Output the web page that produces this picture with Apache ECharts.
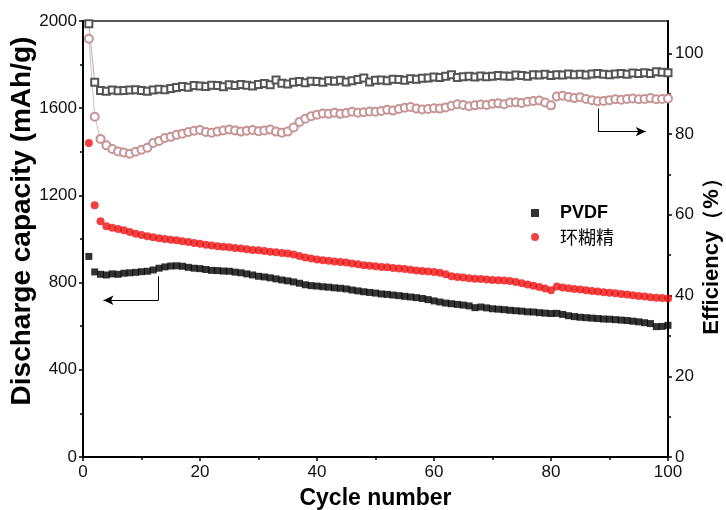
<!DOCTYPE html>
<html>
<head>
<meta charset="utf-8">
<script src="https://cdn.jsdelivr.net/npm/echarts@6/dist/echarts.min.js"></script>
<style>
  html, body { margin: 0; padding: 0; background: #fff; }
  #chartId { width: 726px; height: 510px; }
</style>
</head>
<body>
<div id="chartId"></div>
<script>
// 循环次数 1..100
var cycles = []
for (var i = 1; i <= 100; i++) cycles.push(i)

// 放电容量 (mAh/g)
var capPvdf = [920, 849, 838, 835, 840, 838, 843, 845, 847, 850,
  852, 858, 866, 872, 876, 877, 875, 870, 866, 864,
  860, 856, 855, 853, 852, 848, 845, 840, 835, 829,
  826, 822, 817, 812, 808, 803, 797, 790, 786, 784,
  781, 779, 776, 774, 771, 766, 762, 758, 755, 752,
  748, 746, 743, 740, 737, 734, 731, 727, 722, 716,
  711, 706, 703, 700, 697, 693, 685, 688, 684, 680,
  678, 676, 673, 671, 669, 666, 665, 662, 660, 658,
  659, 654, 648, 644, 641, 639, 637, 635, 633, 632,
  630, 628, 626, 623, 620, 616, 612, 598, 599, 604]
var capCd = [1440, 1155, 1081, 1058, 1052, 1046, 1040, 1032, 1024, 1018,
  1013, 1008, 1003, 1000, 997, 994, 990, 986, 982, 978,
  974, 970, 967, 964, 962, 959, 956, 953, 950, 948,
  945, 942, 939, 936, 933, 929, 922, 915, 910, 906,
  903, 900, 897, 895, 892, 888, 884, 880, 877, 875,
  872, 870, 867, 865, 862, 859, 856, 853, 851, 849,
  845, 838, 829, 826, 823, 820, 818, 816, 814, 812,
  811, 810, 807, 803, 797, 791, 786, 780, 773, 765,
  782, 778, 774, 771, 768, 765, 762, 759, 756, 754,
  751, 748, 745, 742, 739, 736, 733, 731, 729, 727]

// 库伦效率 (%)
var effPvdf = [107.3, 92.8, 90.8, 90.6, 90.9, 90.7, 90.8, 90.9, 91.0, 90.8,
  90.6, 90.9, 91.1, 91.0, 91.3, 91.5, 91.8, 91.6, 92.0, 91.9,
  91.8, 92.1, 92.0, 91.7, 92.2, 92.0, 92.3, 92.1, 91.9, 92.3,
  92.5, 92.2, 93.4, 92.6, 92.4, 92.8, 93.0, 92.7, 93.1, 93.0,
  92.8, 93.2, 93.1, 93.3, 92.9, 93.2, 93.5, 93.9, 92.9, 93.3,
  93.4, 93.2, 93.6, 93.5, 93.3, 93.7, 93.6, 93.8, 93.9, 94.1,
  94.0, 94.3, 94.7, 94.0, 94.2, 94.3, 94.1, 94.4, 94.2, 94.3,
  94.5, 94.4, 94.3, 94.6, 94.5, 94.3, 94.7, 94.6, 94.8, 94.5,
  94.7, 94.6, 94.9, 94.7, 94.8, 94.6, 94.9, 95.0, 94.8, 94.7,
  94.9, 95.0, 94.8, 95.1, 95.0, 95.2, 95.0, 95.4, 95.3, 95.2]
var effCd = [103.6, 84.3, 78.8, 77.2, 76.3, 75.7, 75.4, 75.1, 75.6, 76.1,
  76.6, 77.8, 78.3, 79.0, 79.3, 79.8, 80.1, 80.5, 80.8, 81.0,
  80.5, 80.3, 80.6, 80.9, 81.1, 80.9, 80.6, 80.8, 81.0, 80.7,
  80.9, 81.1, 80.6, 80.3, 80.6, 81.6, 83.0, 83.8, 84.4, 84.8,
  85.1, 85.0, 85.3, 85.0, 85.2, 85.5, 85.3, 85.4, 85.6, 85.5,
  85.7, 86.0, 85.8, 86.2, 86.5, 86.7, 86.3, 86.1, 86.2, 86.4,
  86.3, 86.6, 87.0, 87.4, 87.2, 86.9, 87.1, 87.3, 87.2, 87.5,
  87.6, 87.4, 87.8, 87.9, 87.7, 88.0, 88.2, 88.3, 87.8, 87.1,
  89.3, 89.5, 89.2, 88.9, 89.1, 88.7, 88.4, 88.1, 88.2, 88.4,
  88.6, 88.5, 88.7, 88.8, 88.6, 88.7, 88.9, 88.6, 88.7, 88.8]

var rightTicks = [0, 20, 40, 60, 80, 100]
var rightMinor = [10, 30, 50, 70, 90]

function pairs(vals) {
  return vals.map(function (v, i) { return [cycles[i], v] })
}
function plain(v) { return String(v) }

var font = '"Liberation Sans", Arial, sans-serif'
var axisLine = { show: true, lineStyle: { color: '#000', width: 2 } }

var myChart = echarts.init(document.getElementById('chartId'))
myChart.setOption({
  animation: false,
  textStyle: { fontFamily: font },
  grid: {
    left: 83, right: 58, top: 21, bottom: 53,
    outerBoundsMode: 'none', containLabel: false,
    show: true, borderColor: '#222', borderWidth: 1.5, backgroundColor: 'transparent'
  },
  legend: {
    left: 526, top: 199, orient: 'vertical', itemGap: 6,
    itemWidth: 8, itemHeight: 8,
    data: [
      { name: 'PVDF', icon: 'rect', textStyle: { fontWeight: 'bold', fontSize: 18, color: '#000', padding: [0, 0, 0, 16] } },
      { name: '环糊精', icon: 'circle', textStyle: { fontSize: 18, color: '#000', fontFamily: '"Noto Sans CJK SC", sans-serif', padding: [0, 0, 0, 16] } }
    ]
  },
  xAxis: {
    type: 'value', min: 0, max: 100, interval: 20,
    name: 'Cycle number', nameLocation: 'middle', nameGap: 30, nameMoveOverlap: false,
    nameTextStyle: { fontSize: 23, fontWeight: 'bold', color: '#000' },
    axisLine: axisLine,
    axisTick: { show: true, length: 4, lineStyle: { color: '#000', width: 1.5 } },
    minorTick: { show: true, splitNumber: 2, length: 3, lineStyle: { color: '#000', width: 1.5 } },
    axisLabel: { fontSize: 17, color: '#111', margin: 7, formatter: plain },
    splitLine: { show: false }
  },
  yAxis: [
    {
      type: 'value', min: 0, max: 2000, interval: 400,
      name: 'Discharge capacity (mAh/g)', nameLocation: 'middle', nameGap: 47, nameMoveOverlap: false,
      nameTextStyle: { fontSize: 28, fontWeight: 'bold', color: '#000', padding: [0, 0, 0, 36] },
      axisLine: axisLine,
      axisTick: { show: true, length: 4, lineStyle: { color: '#000', width: 1.5 } },
      minorTick: { show: true, splitNumber: 2, length: 3, lineStyle: { color: '#000', width: 1.5 } },
      axisLabel: { fontSize: 17, color: '#111', margin: 6, formatter: plain },
      splitLine: { show: false }
    },
    {
      type: 'value', min: 0, max: 108, position: 'right',
      name: 'Efficiency（%）', nameLocation: 'middle', nameGap: 33, nameRotate: 90, nameMoveOverlap: false,
      nameTextStyle: { fontSize: 22, fontWeight: 'bold', color: '#000', padding: [0, 24, 0, 0] },
      axisLine: axisLine,
      axisTick: { show: true, length: 4, customValues: rightTicks, lineStyle: { color: '#000', width: 1.5 } },
      axisLabel: { fontSize: 17, color: '#111', margin: 7, customValues: rightTicks, formatter: plain },
      splitLine: { show: false }
    },
    {
      type: 'value', min: 0, max: 108, position: 'right',
      axisLine: { show: false },
      axisTick: { show: true, length: 3, customValues: rightMinor, lineStyle: { color: '#000', width: 1.5 } },
      axisLabel: { show: false },
      splitLine: { show: false }
    }
  ],
  series: [
    {
      name: 'PVDF 效率', type: 'line', yAxisIndex: 1, data: pairs(effPvdf),
      symbol: 'emptyRect', symbolSize: 7,
      lineStyle: { color: '#999', width: 0.8 },
      itemStyle: { color: '#555', borderWidth: 0.9 }
    },
    {
      name: '环糊精 效率', type: 'line', yAxisIndex: 1, data: pairs(effCd),
      symbol: 'emptyCircle', symbolSize: 8,
      lineStyle: { color: '#d4a8a8', width: 0.8 },
      itemStyle: { color: '#c69494', borderWidth: 0.9 },
      markLine: {
        silent: true, symbol: ['none', 'arrow'], symbolSize: [7, 10],
        label: { show: false },
        lineStyle: { color: '#000', width: 1, type: 'solid' },
        data: [
          [{ coord: [88, 86.3], symbol: 'none' }, { coord: [88, 80.6], symbol: 'none' }],
          [{ coord: [88, 80.6] }, { coord: [96.2, 80.6] }]
        ]
      }
    },
    {
      name: 'PVDF', type: 'scatter', yAxisIndex: 0, data: pairs(capPvdf),
      symbol: 'rect', symbolSize: 7,
      itemStyle: { color: '#000' },
      markLine: {
        silent: true, symbol: ['none', 'arrow'], symbolSize: [7, 10],
        label: { show: false },
        lineStyle: { color: '#000', width: 1, type: 'solid' },
        data: [
          [{ coord: [12.9, 829], symbol: 'none' }, { coord: [12.9, 719], symbol: 'none' }],
          [{ coord: [12.9, 719] }, { coord: [3.5, 719] }]
        ]
      }
    },
    {
      name: '环糊精', type: 'scatter', yAxisIndex: 0, data: pairs(capCd),
      symbol: 'circle', symbolSize: 8,
      itemStyle: { color: '#ee1111' }
    }
  ]
})
</script>
</body>
</html>
